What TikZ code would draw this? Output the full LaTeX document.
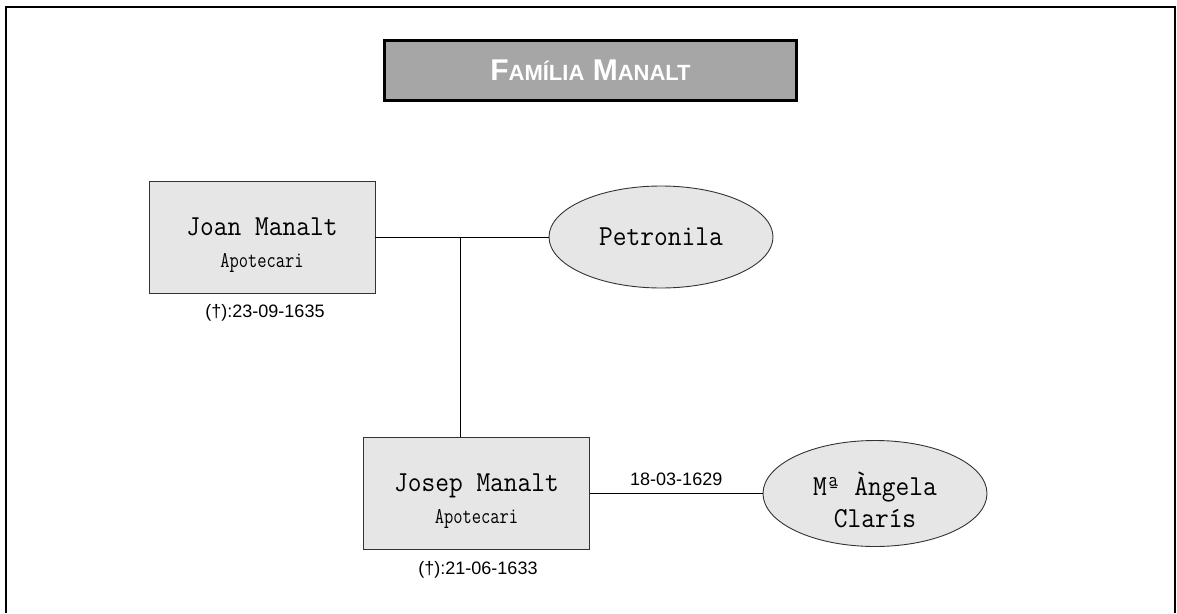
\documentclass[tikz,border=0pt]{standalone}
\usepackage{fontspec}
\setmainfont{Liberation Sans}
\newfontfamily\namefont[Extension=.otf, FakeStretch=0.92]{lmmono12-regular}
\newfontfamily\rolefont[Extension=.otf, FakeStretch=0.8]{lmmono12-regular}
\usetikzlibrary{shapes.geometric}
\definecolor{boxfill}{HTML}{E6E6E6}
\definecolor{titlefill}{HTML}{A6A6A6}
\newcommand{\smallname}[1]{{\rolefont\fontsize{22.5}{32}\selectfont #1}}
\newcommand{\tcapA}[1]{{\fontsize{30}{30}\selectfont #1}}
\newcommand{\tcapB}[1]{{\fontsize{22}{22}\selectfont #1}}
\begin{document}
\begin{tikzpicture}[x=1pt,y=-1pt,
  personbox/.style={draw=black!80, line width=0.9pt, fill=boxfill, rectangle,
     minimum width=226pt, minimum height=112pt, inner sep=0pt, align=center,
     font=\namefont\fontsize{29}{32}\selectfont},
  spouse/.style={draw=black!80, line width=0.9pt, fill=boxfill, ellipse,
     minimum width=224pt, minimum height=102pt, inner sep=0pt, align=center,
     font=\namefont\fontsize{29}{32}\selectfont},
  link/.style={draw=black, line width=0.9pt},
  datelabel/.style={inner sep=0pt, font=\fontsize{18}{20}\selectfont}]
\useasboundingbox (0,0) rectangle (1177,613);
% frame
\draw[line width=2pt, black] (6,613) -- (6,7) -- (1175,7) -- (1175,613);
% title
\node[draw=black, line width=2.6pt, fill=titlefill, minimum width=412pt, minimum height=60pt,
      inner sep=0pt, text=white, font=\bfseries] (title) at (590.5,70.5)
      {\tcapA{F}\tcapB{AMÍLIA}\tcapA{ M}\tcapB{ANALT}};
% persons
\node[personbox] (joan) at (262,237) {\rule{0pt}{33pt}Joan Manalt\\\smallname{Apotecari}};
\node[datelabel] (joand) at (265,313) {(†):23-09-1635};
\node[spouse] (petr) at (661,237) {Petronila};
\node[personbox] (josep) at (476.5,493.5) {\rule{0pt}{33pt}Josep Manalt\\\smallname{Apotecari}};
\node[datelabel] (josepd) at (478,570) {(†):21-06-1633};
\node[spouse, minimum height=106pt] (angela) at (875,493.5) {\rule{0pt}{36pt}Mª Àngela\\Clarís};
% connectors
\draw[link] (joan.east) -- (petr.west);
\coordinate (mid) at (460,237);
\draw[link] (mid) -- (mid |- josep.north);
\draw[link] (josep.east) -- node[above=7pt, datelabel] (wed) {18-03-1629} (angela.west);
\end{tikzpicture}
\end{document}
